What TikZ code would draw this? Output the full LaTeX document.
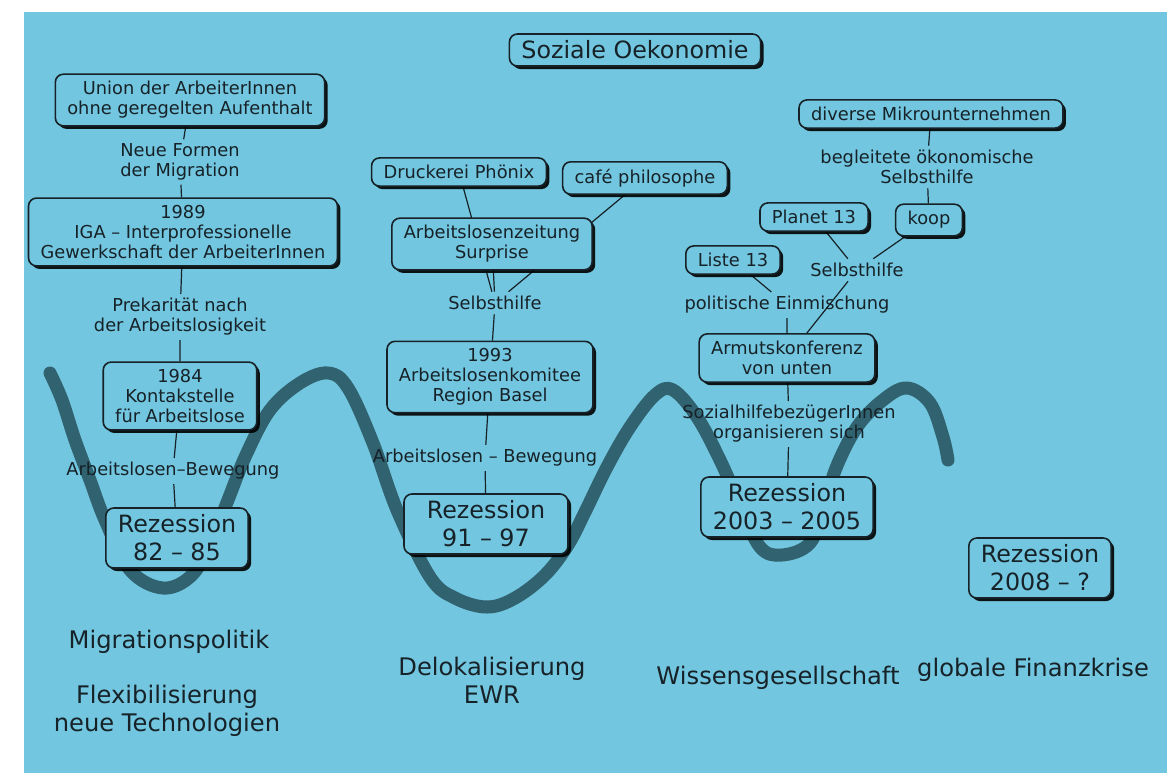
\documentclass[tikz,border=0pt]{standalone}
\usepackage{fontspec}
\setmainfont{DejaVu Sans}
\usepackage{tikz}
\usetikzlibrary{shapes,shadows,positioning,calc}

\definecolor{bgblue}{RGB}{115,198,223}
\definecolor{wavecol}{RGB}{48,98,112}
\definecolor{ink}{RGB}{22,34,40}
\newcommand{\smallf}{\fontsize{8.9}{10}\selectfont}
\newcommand{\bigf}{\fontsize{11.9}{14}\selectfont}
\newcommand{\footf}{\fontsize{12.1}{14}\selectfont}

\pgfdeclarelayer{bg}
\pgfdeclarelayer{wires}
\pgfsetlayers{bg,wires,main}

\tikzset{
  box/.style={draw=ink, line width=0.8pt, rounded corners=4pt, fill=bgblue,
    align=center, font=\smallf, text=ink, inner xsep=6pt, inner ysep=3.6pt,
    drop shadow={shadow xshift=1.5pt, shadow yshift=-1.5pt, fill=black, opacity=0.9}},
  bigbox/.style={box, font=\bigf, inner ysep=3.4pt},
  lbl/.style={align=center, font=\smallf, text=ink, inner sep=2pt},
  era/.style={align=center, font=\footf, text=ink},
  wire/.style={draw=ink, line width=0.6pt},
}

\begin{document}
\begin{tikzpicture}[x=0.5pt,y=-0.5pt]
\useasboundingbox (0,0) rectangle (1167,773);
\begin{pgfonlayer}{bg}
\fill[white] (0,0) rectangle (1167,773);
\fill[bgblue] (24,12) rectangle (1167,773);
% the wave
\draw[wavecol,line width=6.5pt,line cap=round,line join=round]
  plot[smooth,tension=0.6] coordinates {(50,373) (62,400) (75,440) (90,480) (105,520)
  (130,570) (163,588) (192,575) (212,540) (228,500) (246,455) (270,410) (300,383)
  (328,373) (348,388) (373,443) (397,510) (430,577) (455,598) (487,607) (515,598)
  (545,575) (568,545) (585,512) (607,467) (630,427) (655,395) (673,390) (697,417)
  (720,460) (740,505) (760,547) (782,555) (810,543) (825,505) (836,468) (857,427)
  (883,400) (907,388) (930,403) (943,437) (948,460)};
\end{pgfonlayer}

% Title
\node[bigbox] (title) at (635,50) {Soziale Oekonomie};

% Left column
\node[box] (union) at (190,100) {Union der ArbeiterInnen\\ohne geregelten Aufenthalt};
\node[lbl] (neue) at (180,162) {Neue Formen\\der Migration};
\node[box] (iga) at (183,232) {1989\\IGA – Interprofessionelle\\Gewerkschaft der ArbeiterInnen};
\node[lbl] (prekar) at (180,317) {Prekarität nach\\der Arbeitslosigkeit};
\node[box] (kontakt) at (180,396) {1984\\Kontakstelle\\für Arbeitslose};
\node[lbl] (albew) at (173,471) {Arbeitslosen–Bewegung};
\node[bigbox] (rez82) at (177,538) {Rezession\\82 – 85};

% Middle column
\node[box] (druck) at (459,172) {Druckerei Phönix};
\node[box] (cafe) at (645,178) {café philosophe};
\node[box] (surprise) at (492,244) {Arbeitslosenzeitung\\Surprise};
\node[lbl] (selbst) at (495,303) {Selbsthilfe};
\node[box] (komitee) at (490,377) {1993\\Arbeitslosenkomitee\\Region Basel};
\node[lbl] (albewb) at (485,458) {Arbeitslosen – Bewegung};
\node[bigbox,minimum width=82pt] (rez91) at (486,524) {Rezession\\91 – 97};

% Right column
\node[box] (mikro) at (931,114) {diverse Mikrounternehmen};
\node[lbl] (begleit) at (927,167) {begleitete ökonomische\\Selbsthilfe};
\node[box] (planet) at (814,217) {Planet 13};
\node[box] (koop) at (929,220) {koop};
\node[lbl] (selbstb) at (857,270) {Selbsthilfe};
\node[box] (liste) at (733,260) {Liste 13};
\node[lbl] (polit) at (787,305) {politische Einmischung};
\node[box] (armut) at (787,358) {Armutskonferenz\\von unten};
\node[lbl] (sozial) at (789,424) {SozialhilfebezügerInnen\\organisieren sich};
\node[bigbox] (rez03) at (787,507) {Rezession\\2003 – 2005};

\node[bigbox] (rez08) at (1040,568) {Rezession\\2008 – ?};

% Bottom texts
\node[era] (migpol) at (169,642) {Migrationspolitik};
\node[era] (flex) at (167,711) {Flexibilisierung\\neue Technologien};
\node[era] (deloc) at (492,680) {Delokalisierung\\EWR};
\node[era] (wissen) at (778,678) {Wissensgesellschaft};
\node[era] (finanz) at (1033,670) {globale Finanzkrise};

% Connectors
\begin{pgfonlayer}{wires}
\draw[wire] (union) -- (neue) -- (iga);
\draw[wire] (iga) -- (prekar) -- (kontakt);
\draw[wire] (kontakt) -- (albew) -- (rez82);
\draw[wire] (druck) -- (selbst);
\draw[wire] (cafe) -- (selbst);
\draw[wire] (surprise) -- (selbst) -- (komitee);
\draw[wire] (komitee) -- (albewb) -- (rez91);
\draw[wire] (mikro) -- (begleit) -- (koop);
\draw[wire] (planet) -- (selbstb);
\draw[wire] (koop) -- (selbstb);
\draw[wire] (selbstb) -- (armut);
\draw[wire] (liste) -- (polit) -- (armut);
\draw[wire] (armut) -- (sozial) -- (rez03);
\end{pgfonlayer}
\end{tikzpicture}
\end{document}
